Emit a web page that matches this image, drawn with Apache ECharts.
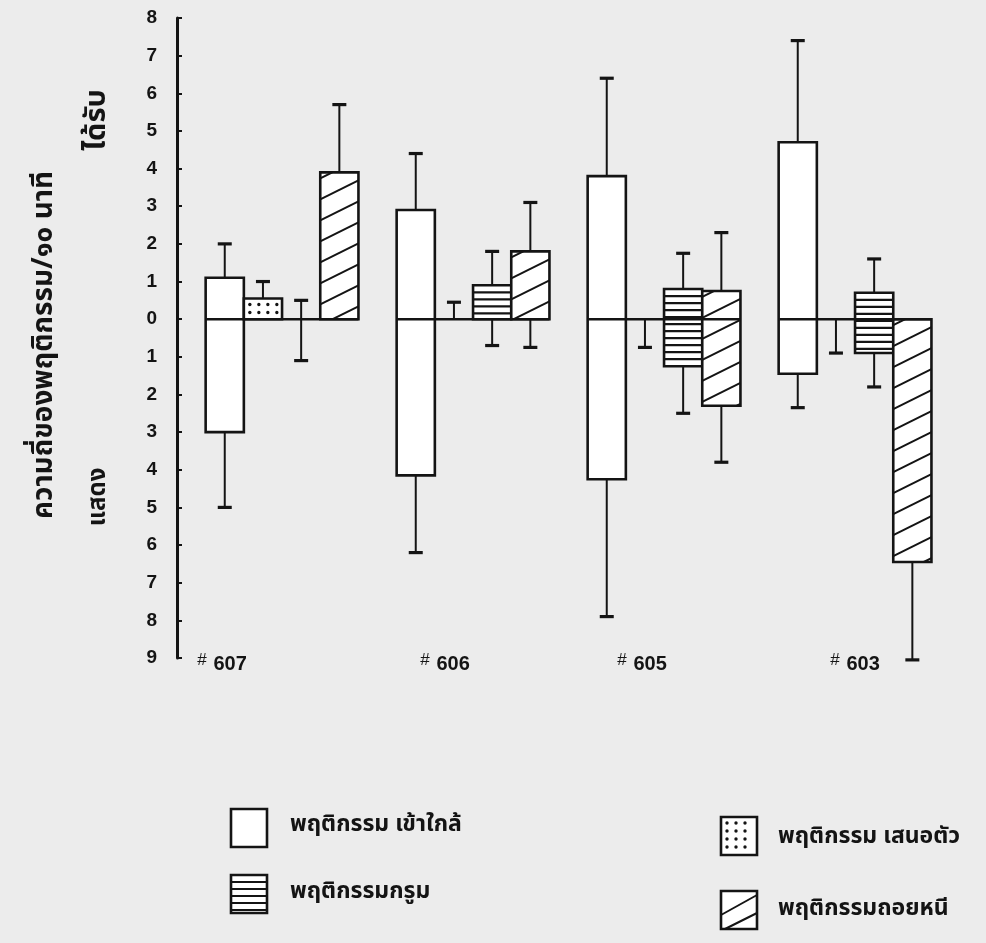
<!DOCTYPE html>
<html><head><meta charset="utf-8">
<script src="https://cdn.jsdelivr.net/npm/echarts@6/dist/echarts.min.js"></script>
<style>html,body{margin:0;padding:0;background:#ececec}#c{width:986px;height:943px}</style>
</head><body><div id="c"></div>
<script>
// ---- data ----
const categories = ['607', '606', '605', '603'];
const seriesNames = ['พฤติกรรม เข้าใกล้', 'พฤติกรรม เสนอตัว', 'พฤติกรรมกรูม', 'พฤติกรรมถอยหนี'];
// received (positive, "ได้รับ") and shown (negative, "แสดง") means, with error-bar ends
const approachReceived    = [1.1, 2.9, 3.8, 4.7];
const approachReceivedErr = [2.0, 4.4, 6.4, 7.4];
const approachShown       = [-3.0, -4.15, -4.25, -1.45];
const approachShownErr    = [-5.0, -6.2, -7.9, -2.35];

const presentReceived    = [0.55, 0, 0, 0];
const presentReceivedErr = [1.0, 0.45, null, null];
const presentShown       = [0, 0, 0, 0];
const presentShownErr    = [null, null, -0.75, -0.9];

const groomReceived    = [0, 0.9, 0.8, 0.7];
const groomReceivedErr = [0.5, 1.8, 1.75, 1.6];
const groomShown       = [0, 0, -1.25, -0.9];
const groomShownErr    = [-1.1, -0.7, -2.5, -1.8];

const withdrawReceived    = [3.9, 1.8, 0.75, 0];
const withdrawReceivedErr = [5.7, 3.1, 2.3, null];
const withdrawShown       = [0, 0, -2.3, -6.45];
const withdrawShownErr    = [null, -0.75, -3.8, -9.05];

const yMin = -9, yMax = 8, yInterval = 1;

// ---- layout / style ----
const INK = '#141414';
const THAI = "'Noto Sans Thai','Noto Sans Thai UI','Loma','Garuda','Norasi','Tlwg Typo','Noto Sans',sans-serif";
const NUM = "'Liberation Sans','DejaVu Sans',sans-serif";
const barSlot = 0.2;           // bar width in x units
const labelShift = [-60, -28, -22, 0];

function patternEls(kind, x0, y0, x1, y1) {
  const els = [];
  const w = x1 - x0;
  const line = (ax, ay, bx, by, lw) => ({
    type: 'line', shape: { x1: ax, y1: ay, x2: bx, y2: by },
    style: { stroke: INK, lineWidth: lw || 2 }, silent: true
  });
  if (kind === 'hlines') {
    const step = 7;
    for (let y = y0 + step; y < y1 - 2; y += step) els.push(line(x0, y, x1, y, 2.2));
  } else if (kind === 'diag') {
    const rise = 19, step = 21;
    for (let yb = y0 + 6; yb < y1 + rise; yb += step) {
      let t0 = Math.max(0, (yb - y1) / rise), t1 = Math.min(1, (yb - y0) / rise);
      if (t1 - t0 < 0.05) continue;
      els.push(line(x0 + t0 * w, yb - t0 * rise, x0 + t1 * w, yb - t1 * rise, 2));
    }
  } else if (kind === 'dots') {
    for (let y = y0 + 6; y < y1 - 2; y += 8) {
      for (let x = x0 + 6; x < x1 - 3; x += 9) {
        els.push({ type: 'circle', shape: { cx: x, cy: y, r: 1.7 }, style: { fill: INK }, silent: true });
      }
    }
  }
  return els;
}

function errBar(x, yFrom, yTo) {
  return [
    { type: 'line', shape: { x1: x, y1: yFrom, x2: x, y2: yTo }, style: { stroke: INK, lineWidth: 2 } },
    { type: 'line', shape: { x1: x - 7, y1: yTo, x2: x + 7, y2: yTo }, style: { stroke: INK, lineWidth: 3.2 } }
  ];
}

function makeSeries(name, slot, pattern, rec, recErr, sh, shErr) {
  return {
    name: name, type: 'custom',
    data: categories.map((c, i) => [i, rec[i], sh[i]]),
    encode: { x: 0, y: [1, 2] },
    renderItem: function (params, api) {
      const i = params.dataIndex;
      const cx = api.value(0) + slot;
      const w = api.size([barSlot, 0])[0];
      const pTop = api.coord([cx, Math.max(api.value(1), 0)]);
      const pBot = api.coord([cx, Math.min(api.value(2), 0)]);
      const x0 = pTop[0] - w / 2, x1 = pTop[0] + w / 2, y0 = pTop[1], y1 = pBot[1];
      let children = [];
      if (y1 - y0 > 0.5) {
        children.push({ type: 'rect', shape: { x: x0, y: y0, width: w, height: y1 - y0 },
          style: { fill: '#ffffff', stroke: INK, lineWidth: 2.6 } });
        children = children.concat(patternEls(pattern, x0, y0, x1, y1));
      }
      if (recErr[i] != null) {
        const e = api.coord([cx, recErr[i]]);
        children = children.concat(errBar(pTop[0], y0, e[1]));
      }
      if (shErr[i] != null) {
        const e = api.coord([cx, shErr[i]]);
        children = children.concat(errBar(pTop[0], y1, e[1]));
      }
      return { type: 'group', children: children };
    },
    z: 2
  };
}

const baselineSeries = {
  type: 'custom', name: 'baseline',
  data: categories.map((c, i) => [i, 0]),
  encode: { x: 0, y: 1 },
  renderItem: function (params, api) {
    const i = params.dataIndex;
    const a = api.coord([api.value(0) - 2 * barSlot, 0]);
    const b = api.coord([api.value(0) + 2 * barSlot, 0]);
    const lab = api.coord([api.value(0), yMin]);
    return { type: 'group', children: [
      { type: 'line', shape: { x1: a[0], y1: a[1], x2: b[0], y2: b[1] }, style: { stroke: INK, lineWidth: 2.6 } },
      { type: 'text', x: lab[0] + labelShift[i], y: lab[1] + 6,
        style: { text: '{h|#}  {n|' + categories[i] + '}', align: 'center', verticalAlign: 'middle',
          rich: { h: { fontSize: 17, fontFamily: NUM, fill: INK, verticalAlign: 'top', padding: [0, 0, 8, 0] },
                  n: { fontSize: 20, fontWeight: 'bold', fontFamily: NUM, fill: INK } } } }
    ] };
  },
  z: 3
};

// ---- legend (graphic) ----
function legendItem(kind, bx, by, label, tx, ty) {
  const els = [{ type: 'rect', shape: { x: bx, y: by, width: 36, height: 38 },
    style: { fill: '#ffffff', stroke: INK, lineWidth: 2.6 } }];
  let pat = [];
  if (kind === 'diag') {
    pat = [
      { type: 'line', shape: { x1: bx, y1: by + 24, x2: bx + 36, y2: by + 4 }, style: { stroke: INK, lineWidth: 2 } },
      { type: 'line', shape: { x1: bx + 4, y1: by + 38, x2: bx + 36, y2: by + 22 }, style: { stroke: INK, lineWidth: 2 } }
    ];
  } else if (kind) pat = patternEls(kind, bx, by, bx + 36, by + 38);
  return els.concat(pat, [{ type: 'text', x: tx, y: ty,
    style: { text: label, fontSize: 23, fontWeight: 'bold', fontFamily: THAI, fill: INK, verticalAlign: 'middle' } }]);
}

const graphicEls = [].concat(
  legendItem(null, 231, 809, seriesNames[0], 290, 826),
  legendItem('dots', 721, 817, seriesNames[1], 778, 838),
  legendItem('hlines', 231, 875, seriesNames[2], 290, 893),
  legendItem('diag', 721, 891, seriesNames[3], 778, 910),
  [
    { type: 'text', x: 46, y: 345, rotation: Math.PI / 2,
      style: { text: 'ความถี่ของพฤติกรรม/๑๐ นาที', fontSize: 28, fontWeight: 'bold', fontFamily: THAI, fill: INK,
        align: 'center', verticalAlign: 'middle' } },
    { type: 'text', x: 99, y: 120, rotation: Math.PI / 2,
      style: { text: 'ได้รับ', fontSize: 29, fontWeight: 'bold', fontFamily: THAI, fill: INK,
        align: 'center', verticalAlign: 'middle' } },
    { type: 'text', x: 100, y: 497, rotation: Math.PI / 2,
      style: { text: 'แสดง', fontSize: 24, fontWeight: 'bold', fontFamily: THAI, fill: INK,
        align: 'center', verticalAlign: 'middle' } }
  ]
);

const chart = echarts.init(document.getElementById('c'), null, { renderer: 'canvas' });
chart.setOption({
  backgroundColor: '#ececec',
  animation: false,
  grid: { left: 177, top: 18, width: 764, height: 640 },
  xAxis: { type: 'value', min: -0.55, max: 3.45, show: false },
  yAxis: {
    type: 'value', min: yMin, max: yMax, interval: yInterval,
    axisLine: { show: true, onZero: false, lineStyle: { color: INK, width: 3 } },
    axisTick: { show: true, inside: true, length: 5, lineStyle: { color: INK, width: 2 } },
    axisLabel: { formatter: v => String(Math.abs(v)), fontSize: 19, fontWeight: 'bold', fontFamily: NUM, color: INK, margin: 20 },
    splitLine: { show: false }
  },
  series: [
    makeSeries(seriesNames[0], -0.3, null, approachReceived, approachReceivedErr, approachShown, approachShownErr),
    makeSeries(seriesNames[1], -0.1, 'dots', presentReceived, presentReceivedErr, presentShown, presentShownErr),
    makeSeries(seriesNames[2], 0.1, 'hlines', groomReceived, groomReceivedErr, groomShown, groomShownErr),
    makeSeries(seriesNames[3], 0.3, 'diag', withdrawReceived, withdrawReceivedErr, withdrawShown, withdrawShownErr),
    baselineSeries
  ],
  graphic: graphicEls
});
</script>
</body></html>
